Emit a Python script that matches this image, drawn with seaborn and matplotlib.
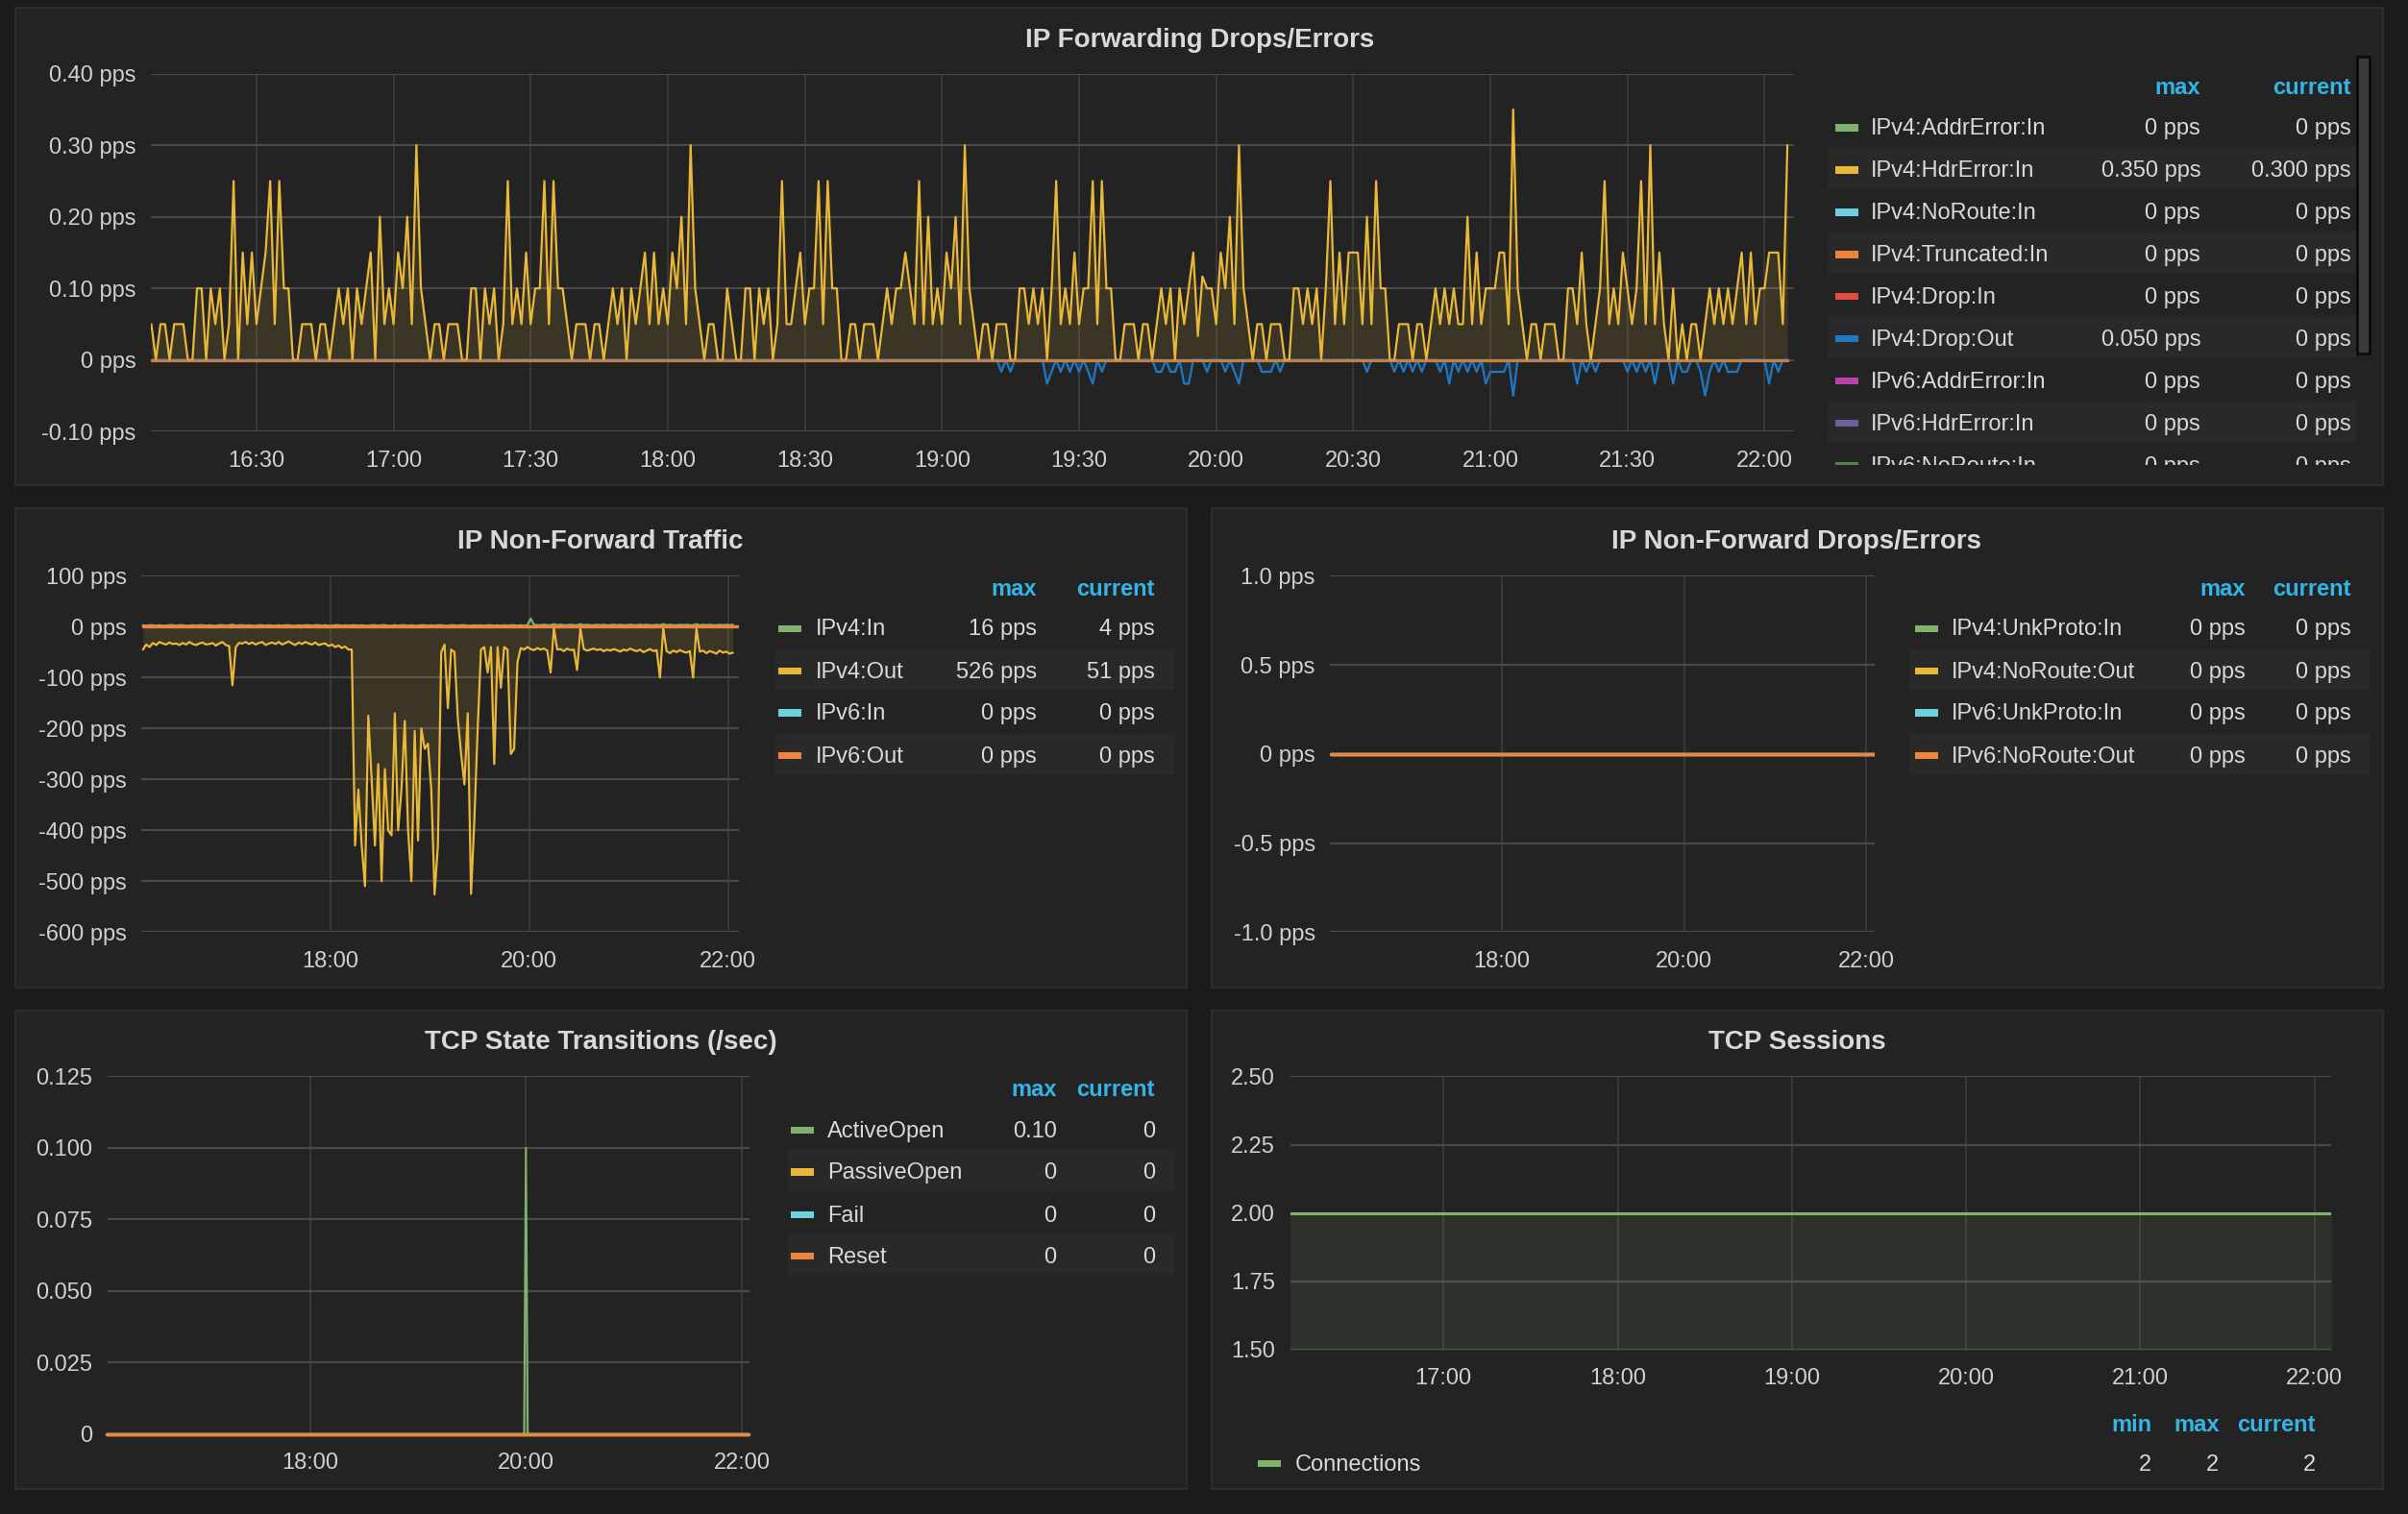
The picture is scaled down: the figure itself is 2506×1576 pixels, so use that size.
import numpy as np
import pandas as pd
import matplotlib
matplotlib.use('Agg')
import matplotlib.pyplot as plt
import matplotlib.dates as mdates
from matplotlib.patches import Rectangle
from matplotlib.ticker import FuncFormatter
import seaborn as sns

# ------------------------------------------------------------------
# DATA
# ------------------------------------------------------------------
DAY = '2017-06-01 '

# IP Forwarding Drops/Errors: packets per minute, one sample a minute from 16:07
hdr_error_in_ppm = [
    3, 0, 3, 3, 0, 3, 3, 3, 0, 0,
    6, 6, 0, 6, 3, 6, 0, 3, 15, 0,
    9, 3, 9, 3, 6, 9, 15, 3, 15, 6,
    6, 0, 0, 3, 3, 3, 0, 3, 3, 0,
    3, 6, 3, 6, 0, 6, 3, 6, 9, 0,
    12, 3, 6, 3, 9, 6, 12, 3, 18, 6,
    3, 0, 3, 3, 0, 3, 3, 3, 0, 0,
    6, 6, 0, 6, 3, 6, 0, 3, 15, 3,
    6, 3, 9, 3, 6, 6, 15, 3, 15, 6,
    6, 3, 0, 3, 3, 3, 0, 3, 3, 0,
    3, 6, 3, 6, 0, 6, 3, 6, 9, 3,
    9, 3, 6, 3, 9, 6, 12, 3, 18, 6,
    3, 0, 3, 3, 0, 0, 6, 3, 0, 0,
    6, 6, 0, 6, 3, 6, 0, 3, 15, 3,
    3, 6, 9, 3, 6, 6, 15, 3, 15, 6,
    6, 0, 0, 3, 3, 0, 3, 3, 3, 0,
    3, 6, 3, 6, 6, 9, 6, 3, 15, 3,
    12, 3, 6, 3, 9, 6, 12, 3, 18, 6,
    3, 0, 3, 3, 0, 3, 3, 3, 0, 0,
    6, 6, 3, 6, 3, 6, 0, 6, 15, 3,
    6, 3, 9, 3, 6, 6, 15, 3, 15, 6,
    6, 0, 0, 3, 3, 3, 0, 3, 3, 0,
    3, 6, 3, 6, 0, 6, 3, 6, 9, 2,
    7, 6, 6, 3, 9, 6, 12, 3, 18, 6,
    3, 0, 3, 3, 0, 3, 3, 3, 0, 0,
    6, 6, 3, 6, 3, 6, 0, 6, 15, 3,
    9, 3, 9, 9, 9, 3, 12, 3, 15, 6,
    6, 0, 0, 3, 3, 3, 0, 3, 3, 0,
    3, 6, 3, 6, 3, 6, 3, 3, 12, 3,
    9, 3, 6, 6, 6, 9, 9, 3, 21, 6,
    3, 0, 3, 3, 0, 3, 3, 3, 0, 0,
    6, 6, 3, 9, 3, 0, 3, 6, 15, 3,
    6, 3, 9, 6, 3, 6, 15, 3, 18, 3,
    9, 3, 0, 6, 0, 3, 0, 3, 3, 0,
    3, 6, 3, 6, 3, 6, 3, 6, 9, 3,
    9, 3, 6, 6, 9, 9, 9, 3, 18,
]
drop_out_ppm = [
    0, 0, 0, 0, 0, 0, 0, 0, 0, 0, 0, 0, 0, 0, 0, 0, 0, 0, 0, 0, 0, 0, 0, 0, 0, 0, 0, 0, 0, 0,
    0, 0, 0, 0, 0, 0, 0, 0, 0, 0, 0, 0, 0, 0, 0, 0, 0, 0, 0, 0, 0, 0, 0, 0, 0, 0, 0, 0, 0, 0,
    0, 0, 0, 0, 0, 0, 0, 0, 0, 0, 0, 0, 0, 0, 0, 0, 0, 0, 0, 0, 0, 0, 0, 0, 0, 0, 0, 0, 0, 0,
    0, 0, 0, 0, 0, 0, 0, 0, 0, 0, 0, 0, 0, 0, 0, 0, 0, 0, 0, 0, 0, 0, 0, 0, 0, 0, 0, 0, 0, 0,
    0, 0, 0, 0, 0, 0, 0, 0, 0, 0, 0, 0, 0, 0, 0, 0, 0, 0, 0, 0, 0, 0, 0, 0, 0, 0, 0, 0, 0, 0,
    0, 0, 0, 0, 0, 0, 0, 0, 0, 0, 0, 0, 0, 0, 0, 0, 0, 0, 0, 0, 0, 0, 0, 0, 0, 0, 0, 0, 0, 0,
    0, 0, 0, 0, 0, 0, 1, 0, 1, 0,
    0, 0, 0, 0, 0, 0, 2, 1, 0, 1,
    0, 1, 0, 1, 0, 1, 2, 0, 1, 0,
    0, 0, 0, 0, 0, 0, 0, 0, 0, 0,
    1, 1, 0, 1, 1, 0, 2, 2, 0, 0,
    0, 1, 0, 0, 0, 1, 0, 1, 2, 0,
    0, 0, 0, 1, 1, 1, 0, 1, 0, 0,
    0, 0, 0, 0, 0, 0, 0, 0, 0, 0,
    0, 0, 0, 0, 0, 0, 1, 0, 0, 0,
    0, 0, 1, 0, 1, 0, 1, 0, 1, 0,
    0, 0, 1, 0, 2, 0, 1, 0, 1, 0,
    1, 0, 2, 1, 1, 1, 1, 0, 3, 0,
    0, 0, 0, 0, 0, 0, 0, 0, 0, 0,
    0, 0, 2, 0, 1, 0, 1, 0, 0, 0,
    0, 0, 0, 1, 0, 1, 0, 1, 0, 2,
    0, 0, 0, 2, 0, 1, 1, 0, 0, 1,
    3, 1, 0, 1, 0, 1, 1, 1, 0, 0,
    0, 0, 0, 0, 2, 0, 1, 0, 0,
]
fwd_names = ['IPv4:AddrError:In', 'IPv4:HdrError:In', 'IPv4:NoRoute:In', 'IPv4:Truncated:In',
             'IPv4:Drop:In', 'IPv4:Drop:Out', 'IPv6:AddrError:In', 'IPv6:HdrError:In',
             'IPv6:NoRoute:In']
fwd_max = ['0 pps', '0.350 pps', '0 pps', '0 pps', '0 pps', '0.050 pps', '0 pps', '0 pps', '0 pps']
fwd_current = ['0 pps', '0.300 pps', '0 pps', '0 pps', '0 pps', '0 pps', '0 pps', '0 pps', '0 pps']

# IP Non-Forward Traffic: pps, one sample every 2 minutes from 16:07
ipv4_in = [
    3, 2, 3, 3, 2, 3, 2, 2, 3, 3,
    2, 3, 3, 2, 2, 3, 2, 3, 3, 2,
    3, 2, 2, 3, 3, 2, 3, 4, 2, 3,
    3, 2, 3, 2, 2, 3, 3, 2, 3, 2,
    2, 3, 2, 3, 3, 2, 2, 3, 2, 3,
    3, 2, 3, 3, 2, 3, 2, 2, 3, 3,
    2, 3, 2, 3, 3, 2, 3, 2, 2, 3,
    3, 2, 3, 3, 2, 2, 3, 2, 3, 3,
    2, 3, 2, 2, 3, 3, 2, 3, 2, 3,
    3, 2, 2, 3, 3, 2, 3, 3, 2, 2,
    3, 2, 3, 2, 3, 3, 2, 3, 2, 3,
    2, 3, 3, 2, 3, 2, 3, 16,
    4, 3, 3, 4, 3, 3, 5, 3, 4, 3,
    3, 4, 3, 3, 5, 3, 4, 3, 3, 4,
    3, 4, 3, 3, 4, 3, 4, 3, 3, 4,
    3, 3, 4, 3, 4, 3, 3, 4, 3, 5,
    3, 4, 3, 3, 4, 3, 4, 3, 3, 5,
    3, 4, 3, 4, 3, 3, 4, 3, 4, 3,
    4,
]
ipv4_out = [
    45, 35, 40, 32, 36, 30, 33, 35, 31, 34,
    33, 36, 32, 35, 30, 34, 36, 33, 31, 35,
    34, 32, 37, 33, 30, 36, 38, 115, 40, 32,
    33, 30, 34, 31, 35, 32, 30, 36, 33, 31,
    34, 30, 35, 32, 29, 33, 36, 31, 34, 30,
    33, 35, 31, 36, 34, 33, 38, 35, 40, 37,
    42, 39, 45, 45, 430, 320, 430, 510, 175, 300,
    430, 270, 500, 280, 400, 410, 170, 400, 320, 185,
    400, 500, 205, 420, 200, 240, 230, 320, 526, 430,
    50, 35, 160, 45, 50, 180, 250, 310, 170, 525,
    380, 200, 45, 40, 90, 40, 270, 40, 120, 40,
    45, 250, 240, 70, 42, 45, 40, 44, 46, 42,
    45, 43, 47, 90, 3, 45, 44, 48, 43, 46,
    45, 85, 3, 44, 47, 45, 43, 46, 44, 48,
    45, 47, 44, 46, 49, 45, 47, 43, 46, 48,
    45, 50, 47, 44, 48, 46, 100, 3, 48, 52,
    47, 50, 46, 49, 51, 48, 100, 3, 49, 47,
    52, 48, 50, 53, 47, 51, 49, 53, 51,
]
nonfwd_names = ['IPv4:In', 'IPv4:Out', 'IPv6:In', 'IPv6:Out']
nonfwd_max = ['16 pps', '526 pps', '0 pps', '0 pps']
nonfwd_current = ['4 pps', '51 pps', '0 pps', '0 pps']

# IP Non-Forward Drops/Errors: every series flat at zero
flat_times = ['16:07', '22:06']
flat_zero = [0, 0]
drops_names = ['IPv4:UnkProto:In', 'IPv4:NoRoute:Out', 'IPv6:UnkProto:In', 'IPv6:NoRoute:Out']
drops_max = ['0 pps', '0 pps', '0 pps', '0 pps']
drops_current = ['0 pps', '0 pps', '0 pps', '0 pps']

# TCP State Transitions (/sec)
tcp_times = ['16:07', '19:59', '20:00', '20:01', '22:04']
active_open = [0, 0, 0.1, 0, 0]
passive_open = [0, 0, 0, 0, 0]
tcp_fail = [0, 0, 0, 0, 0]
tcp_reset = [0, 0, 0, 0, 0]
tcp_names = ['ActiveOpen', 'PassiveOpen', 'Fail', 'Reset']
tcp_max = ['0.10', '0', '0', '0']
tcp_current = ['0', '0', '0', '0']

# TCP Sessions
sess_times = ['16:07', '22:06']
connections = [2, 2]
sess_stats = ['2', '2', '2']

# ------------------------------------------------------------------
# STYLE
# ------------------------------------------------------------------
sns.set_theme(style='dark')
plt.rcParams['font.family'] = ['Liberation Sans', 'DejaVu Sans']

OUTER = '#1b1b1b'
PANEL = '#232323'
BORDER = '#2d2d2d'
STRIPE = '#292929'
TEXT = '#d8d9da'
TICK = '#d0d0d0'
HEAD = '#33b5e5'
GRID_H = '#494949'
GRID_V = '#3d3d3d'
COLORS = ['#7EB26D', '#EAB839', '#6ED0E0', '#EF843C', '#E24D42',
          '#1F78C1', '#BA43A9', '#705DA0', '#508642']
FS = 17
DY = 2  # text sits a touch below the row centre

W, H = 1568, 986  # dashboard layout grid


def rect(x0, y0, x1, y1):
    return [x0 / W, 1 - y1 / H, (x1 - x0) / W, (y1 - y0) / H]


def ts(hhmm):
    return pd.Timestamp(DAY + hhmm)


def series(ax, t, y, color, lw=1.6, fill=None, alpha=1.0, z=2, clip=True):
    sns.lineplot(x=t, y=y, ax=ax, color=color, linewidth=lw, alpha=alpha,
                 errorbar=None, legend=False, zorder=z)
    ax.lines[-1].set_clip_on(clip)
    if fill is not None:
        ax.fill_between(t, fill, y, color=color, alpha=0.12, lw=0, zorder=1)


def style(ax, ylim, yticks, yfmt, xlim, xticks):
    ax.set_facecolor('none')
    ax.set_ylim(*ylim)
    ax.set_yticks(yticks)
    ax.yaxis.set_major_formatter(FuncFormatter(yfmt))
    ax.set_xlim(mdates.date2num(ts(xlim[0])), mdates.date2num(ts(xlim[1])))
    ax.set_xticks([mdates.date2num(ts(x)) for x in xticks])
    ax.xaxis.set_major_formatter(mdates.DateFormatter('%H:%M'))
    for s in ax.spines.values():
        s.set_visible(False)
    ax.tick_params(length=0, labelsize=FS, colors=TICK)
    ax.tick_params(axis='y', pad=11)
    ax.tick_params(axis='x', pad=14)
    ax.grid(True, axis='y', color=GRID_H, lw=1.6)
    ax.grid(True, axis='x', color=GRID_V, lw=1.2)
    ax.set_xlabel('')
    ax.set_ylabel('')


def legend(ax, names, colors, cols, heads, y_head, y_rows, x_sw, x_name, x_cols,
           stripe=None, clip=False):
    for i, (name, c, y) in enumerate(zip(names, colors, y_rows)):
        if stripe is not None and i % 2 == 1:
            ax.add_patch(Rectangle((stripe[0], y - 13.5), stripe[1] - stripe[0], 27,
                                   color=STRIPE, lw=0, clip_on=clip))
        ax.add_patch(Rectangle((x_sw, y - 1), 15, 4.5, color=c, lw=0, clip_on=clip))
        ax.text(x_name, y + DY, name, ha='left', va='center', fontsize=FS, color=TEXT,
                clip_on=clip)
        for xc, col in zip(x_cols, cols):
            ax.text(xc, y + DY, col[i], ha='right', va='center', fontsize=FS, color=TEXT,
                    clip_on=clip)
    for xc, h in zip(x_cols, heads):
        ax.text(xc, y_head + DY, h, ha='right', va='center', fontsize=FS, color=HEAD,
                fontweight='bold', clip_on=clip)


fig = plt.figure(figsize=(25.06, 15.76), dpi=100, facecolor=OUTER)

# background layer: panels, titles, legends
bg = fig.add_axes([0, 0, 1, 1], zorder=-10)
bg.set_xlim(0, W)
bg.set_ylim(H, 0)
bg.axis('off')
panels = [(10, 5, 1552, 316), (10, 331, 773, 643), (789, 331, 1552, 643),
          (10, 658, 773, 970), (789, 658, 1552, 970)]
for x0, y0, x1, y1 in panels:
    bg.add_patch(Rectangle((x0, y0), x1 - x0, y1 - y0, facecolor=PANEL,
                           edgecolor=BORDER, lw=1.5))
titles = [(781, 24, 'IP Forwarding Drops/Errors'), (391, 351, 'IP Non-Forward Traffic'),
          (1170, 351, 'IP Non-Forward Drops/Errors'), (391, 677, 'TCP State Transitions (/sec)'),
          (1170, 677, 'TCP Sessions')]
for x, y, t in titles:
    bg.text(x, y + DY, t, ha='center', va='center', fontsize=20, fontweight='bold', color=TEXT)

# ------------------------------------------------------------------
# IP Forwarding Drops/Errors
# ------------------------------------------------------------------
t_fwd = pd.Series(pd.date_range(DAY + '16:07', periods=len(hdr_error_in_ppm), freq='min'))
hdr_pps = np.array(hdr_error_in_ppm) / 60
drop_pps = np.array(drop_out_ppm) / 60
t_edge = pd.Series([t_fwd.iloc[0], t_fwd.iloc[-1]])

ax1 = fig.add_axes(rect(98, 48, 1168, 281))
for i in [0, 2, 4, 6, 7, 8]:
    series(ax1, t_edge, [0, 0], COLORS[i], lw=2)
series(ax1, t_fwd, -drop_pps, COLORS[5], lw=1.6, fill=0)
series(ax1, t_fwd, hdr_pps, COLORS[1], lw=1.6, fill=0)
series(ax1, t_edge, [0, 0], COLORS[3], lw=2.4, alpha=0.72, z=4)
style(ax1, (-0.1, 0.4), [-0.1, 0, 0.1, 0.2, 0.3, 0.4],
      lambda v, p: '0 pps' if abs(v) < 1e-9 else f'{v:.2f} pps',
      ('16:06:49', '22:06:23'),
      ['16:30', '17:00', '17:30', '18:00', '18:30', '19:00', '19:30', '20:00',
       '20:30', '21:00', '21:30', '22:00'])

leg1 = fig.add_axes(rect(1185, 30, 1552, 303))
leg1.set_xlim(1185, 1552)
leg1.set_ylim(303, 30)
leg1.axis('off')
legend(leg1, fwd_names, COLORS, [fwd_max, fwd_current], ['max', 'current'], 55,
       [82 + 27.5 * i for i in range(9)], 1195, 1218, [1433, 1531],
       stripe=(1190, 1534), clip=True)
leg1.add_patch(Rectangle((1535, 37), 8, 193, facecolor='#3b3b3b', edgecolor='#0c0c0c', lw=2))

# ------------------------------------------------------------------
# IP Non-Forward Traffic
# ------------------------------------------------------------------
t_nf = pd.Series(pd.date_range(DAY + '16:07', periods=len(ipv4_out), freq='2min'))
t_flat = pd.Series([ts(x) for x in flat_times])
ax2 = fig.add_axes(rect(92, 375, 481, 607))
series(ax2, t_nf, ipv4_in, COLORS[0], lw=1.6, fill=0)
series(ax2, t_nf, -np.array(ipv4_out), COLORS[1], lw=1.6, fill=0)
series(ax2, t_flat, flat_zero, COLORS[2], lw=2)
series(ax2, t_flat, flat_zero, COLORS[3], lw=2.4, z=3)
style(ax2, (-600, 100), [-600, -500, -400, -300, -200, -100, 0, 100],
      lambda v, p: f'{v:.0f} pps', ('16:06', '22:06:30'), ['18:00', '20:00', '22:00'])
legend(bg, nonfwd_names, COLORS[:4], [nonfwd_max, nonfwd_current], ['max', 'current'], 382,
       [408, 436, 463, 491], 507, 531, [675, 752], stripe=(505, 765))

# ------------------------------------------------------------------
# IP Non-Forward Drops/Errors
# ------------------------------------------------------------------
ax3 = fig.add_axes(rect(866, 375, 1221, 607))
for i in range(4):
    series(ax3, t_flat, flat_zero, COLORS[i], lw=2.4)
style(ax3, (-1, 1), [-1, -0.5, 0, 0.5, 1],
      lambda v, p: '0 pps' if abs(v) < 1e-9 else f'{v:.1f} pps',
      ('16:06:36', '22:06'), ['18:00', '20:00', '22:00'])
legend(bg, drops_names, COLORS[:4], [drops_max, drops_current], ['max', 'current'], 382,
       [408, 436, 463, 491], 1247, 1271, [1462, 1531], stripe=(1243, 1543))

# ------------------------------------------------------------------
# TCP State Transitions
# ------------------------------------------------------------------
t_tcp = pd.Series([ts(x) for x in tcp_times])
ax4 = fig.add_axes(rect(70, 701, 488, 934))
series(ax4, t_tcp, active_open, COLORS[0], lw=1.5, fill=0, clip=False)
series(ax4, t_tcp, passive_open, COLORS[1], lw=2.4, clip=False)
series(ax4, t_tcp, tcp_fail, COLORS[2], lw=2.4, clip=False)
series(ax4, t_tcp, tcp_reset, COLORS[3], lw=2.4, z=3, clip=False)
style(ax4, (0, 0.125), [0, 0.025, 0.05, 0.075, 0.1, 0.125],
      lambda v, p: '0' if abs(v) < 1e-9 else f'{v:.3f}',
      ('16:07:18', '22:04:18'), ['18:00', '20:00', '22:00'])
legend(bg, tcp_names, COLORS[:4], [tcp_max, tcp_current], ['max', 'current'], 708,
       [735, 762, 790, 817], 515, 539, [688, 752], stripe=(513, 765))

# ------------------------------------------------------------------
# TCP Sessions
# ------------------------------------------------------------------
t_sess = pd.Series([ts(x) for x in sess_times])
ax5 = fig.add_axes(rect(840, 701, 1518, 879))
sns.lineplot(x=t_sess, y=connections, ax=ax5, color=COLORS[0], linewidth=2.2,
             errorbar=None, legend=False)
ax5.fill_between(t_sess, 0, connections, color=COLORS[0], alpha=0.1, lw=0)
style(ax5, (1.5, 2.5), [1.5, 1.75, 2.0, 2.25, 2.5], lambda v, p: f'{v:.2f}',
      ('16:07:06', '22:05:48'), ['17:00', '18:00', '19:00', '20:00', '21:00', '22:00'])
legend(bg, ['Connections'], [COLORS[0]], [[sess_stats[0]], [sess_stats[1]], [sess_stats[2]]],
       ['min', 'max', 'current'], 926, [952], 819, 843, [1401, 1445, 1508])

fig.savefig('out.png', dpi=100, facecolor=fig.get_facecolor())
